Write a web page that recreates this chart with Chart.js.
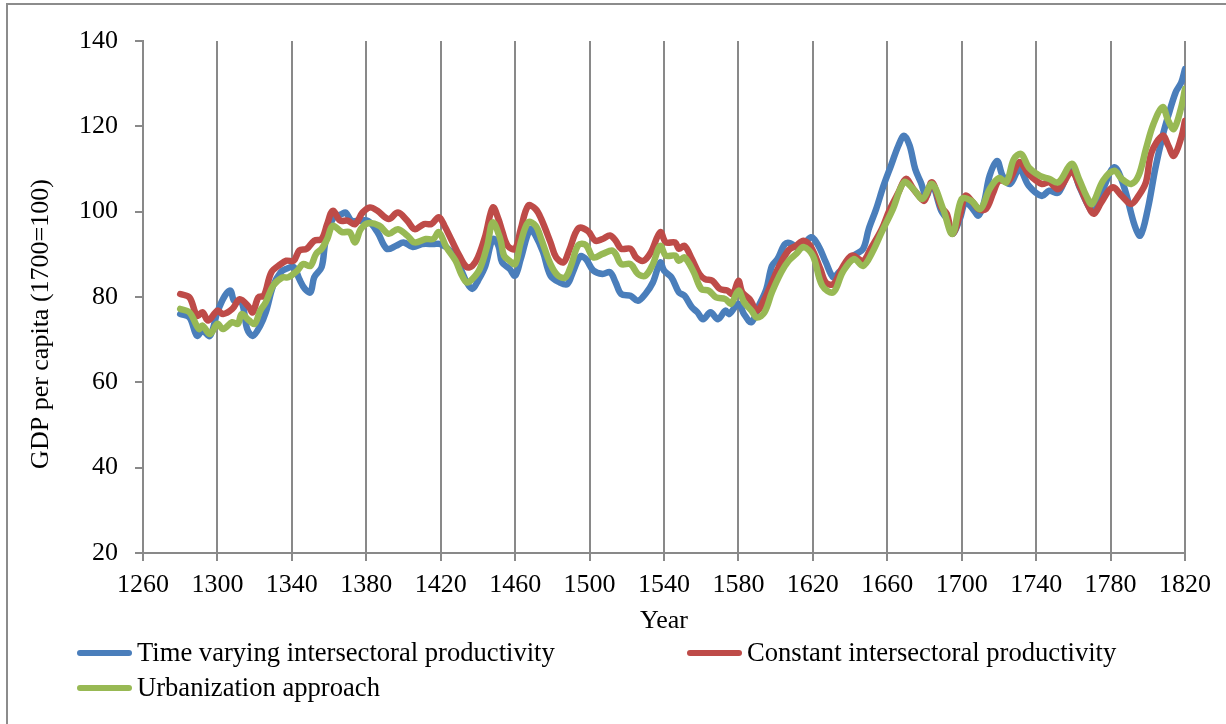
<!DOCTYPE html>
<html>
<head>
<meta charset="utf-8">
<script src="https://cdn.jsdelivr.net/npm/chart.js@4.4.1/dist/chart.umd.min.js"></script>
<style>
    html, body { margin: 0; padding: 0; background: #fff; }
    #wrap { position: relative; width: 1226px; height: 724px; overflow: hidden; }
    #frame { position: absolute; left: 6px; top: 3px; right: -5px; bottom: -5px; border-left: 2px solid #8c8c8c; border-top: 2px solid #8c8c8c; }
    .legend-item { position: absolute; display: flex; align-items: center; font-family: "Liberation Serif", "Times New Roman", serif; font-size: 26.6px; color: #000; white-space: nowrap; }
    .swatch { width: 55px; height: 6px; border-radius: 3px; margin-right: 5px; }
</style>
</head>
<body>
<div id="wrap">
    <div id="frame"></div>
    <canvas id="gdpChart" width="1226" height="724"></canvas>
    <div id="legend"></div>
</div>
<script>
// Time varying intersectoral productivity
const timeVaryingYears = [1280, 1285, 1289, 1292, 1296, 1300, 1304, 1307, 1309, 1313, 1316, 1319, 1323, 1326, 1330, 1334, 1337, 1341, 1344, 1347, 1350, 1352, 1356, 1358, 1362, 1367, 1369, 1372, 1376, 1381, 1386, 1391, 1396, 1400, 1405, 1410, 1416, 1420, 1425, 1430, 1434, 1437, 1440, 1444, 1448, 1451, 1453, 1457, 1460, 1463, 1468, 1471, 1475, 1479, 1484, 1488, 1491, 1495, 1498, 1502, 1507, 1511, 1514, 1517, 1522, 1526, 1530, 1534, 1538, 1540, 1544, 1548, 1551, 1555, 1558, 1561, 1565, 1569, 1573, 1575, 1580, 1583, 1587, 1591, 1595, 1598, 1601, 1605, 1608, 1613, 1619, 1623, 1627, 1631, 1634, 1638, 1642, 1647, 1650, 1654, 1658, 1662, 1666, 1669, 1672, 1675, 1678, 1681, 1684, 1689, 1692, 1695, 1699, 1702, 1706, 1709, 1712, 1715, 1719, 1722, 1726, 1731, 1736, 1743, 1747, 1752, 1759, 1763, 1768, 1771, 1776, 1782, 1787, 1793, 1796, 1800, 1804, 1808, 1811, 1815, 1818, 1820];
const timeVaryingValues = [76.0, 75.2, 70.9, 72.1, 70.9, 76.5, 80.3, 81.5, 79.1, 78.8, 72.5, 70.9, 73.3, 76.4, 82.7, 85.8, 86.6, 87.0, 84.2, 81.9, 81.1, 84.6, 87.0, 92.8, 98.3, 99.5, 99.8, 97.9, 97.9, 97.8, 95.2, 91.3, 92.0, 92.8, 91.7, 92.4, 92.4, 92.4, 90.9, 87.3, 83.4, 81.9, 83.8, 87.3, 93.6, 92.0, 88.1, 86.6, 85.0, 88.9, 95.9, 94.4, 90.5, 85.0, 83.4, 83.0, 85.8, 89.5, 88.9, 86.2, 85.4, 85.8, 83.4, 80.7, 80.3, 79.1, 80.7, 83.4, 88.1, 86.2, 84.6, 81.1, 80.3, 77.6, 76.4, 74.8, 76.4, 74.8, 76.8, 76.0, 78.4, 76.0, 74.1, 78.0, 81.9, 87.3, 88.9, 92.4, 92.6, 91.3, 94.0, 92.0, 88.1, 84.6, 85.8, 87.3, 89.7, 91.3, 95.9, 100.6, 106.1, 110.8, 115.5, 117.8, 115.5, 110.0, 106.9, 103.7, 106.5, 100.2, 98.3, 94.8, 98.3, 102.2, 100.6, 99.1, 102.2, 108.4, 111.9, 108.4, 106.5, 110.0, 106.1, 103.7, 104.9, 104.5, 110.4, 106.1, 101.4, 99.8, 105.3, 110.4, 106.1, 96.7, 94.4, 100.6, 110.0, 117.8, 122.5, 128.0, 130.3, 133.4];

// Constant intersectoral productivity
const constantYears = [1280, 1285, 1289, 1292, 1295, 1300, 1303, 1308, 1312, 1317, 1319, 1322, 1325, 1329, 1334, 1337, 1341, 1344, 1348, 1352, 1356, 1359, 1362, 1366, 1370, 1374, 1378, 1382, 1386, 1392, 1397, 1402, 1406, 1411, 1415, 1419, 1422, 1426, 1430, 1434, 1437, 1440, 1444, 1448, 1451, 1453, 1456, 1460, 1463, 1467, 1471, 1474, 1479, 1482, 1486, 1489, 1494, 1499, 1503, 1507, 1511, 1514, 1517, 1522, 1525, 1529, 1533, 1538, 1541, 1546, 1548, 1551, 1555, 1559, 1562, 1566, 1570, 1574, 1577, 1580, 1582, 1586, 1590, 1594, 1598, 1602, 1607, 1611, 1615, 1619, 1624, 1627, 1631, 1636, 1641, 1647, 1651, 1657, 1661, 1666, 1670, 1674, 1677, 1680, 1684, 1689, 1692, 1695, 1699, 1702, 1706, 1709, 1713, 1717, 1720, 1725, 1731, 1736, 1743, 1747, 1752, 1759, 1764, 1768, 1771, 1775, 1781, 1786, 1791, 1795, 1799, 1802, 1808, 1811, 1814, 1818, 1820];
const constantValues = [80.7, 79.9, 75.6, 76.4, 74.5, 76.8, 76.0, 77.2, 79.5, 77.6, 76.4, 79.9, 80.3, 85.8, 87.7, 88.5, 88.5, 90.9, 91.3, 93.2, 93.6, 97.1, 100.2, 97.9, 97.9, 97.1, 99.8, 101.0, 100.2, 98.3, 99.8, 97.9, 95.9, 97.1, 97.1, 98.7, 96.7, 93.2, 89.7, 87.0, 87.3, 89.3, 94.4, 101.0, 98.3, 95.5, 92.0, 91.3, 95.9, 101.4, 100.6, 98.3, 92.8, 89.3, 88.1, 90.9, 96.1, 95.5, 93.2, 93.6, 94.4, 93.2, 91.3, 91.3, 89.3, 88.5, 90.5, 95.2, 92.8, 92.8, 91.3, 92.0, 88.9, 85.4, 84.2, 83.8, 81.9, 81.5, 80.7, 83.8, 81.1, 79.5, 76.8, 79.5, 83.4, 87.3, 91.0, 92.0, 93.2, 91.7, 86.6, 83.4, 83.0, 87.0, 89.7, 88.5, 91.3, 95.9, 100.2, 104.5, 107.7, 105.3, 103.7, 102.6, 106.9, 101.0, 99.5, 94.8, 99.1, 103.7, 102.2, 100.6, 100.6, 104.5, 107.3, 107.1, 111.6, 108.8, 106.5, 106.9, 105.3, 109.2, 105.3, 101.4, 99.5, 102.2, 105.7, 103.7, 101.8, 103.7, 106.9, 113.9, 117.8, 115.5, 113.1, 117.4, 121.3];

// Urbanization approach
const urbanYears = [1280, 1285, 1290, 1292, 1296, 1300, 1303, 1308, 1311, 1313, 1317, 1320, 1323, 1326, 1330, 1335, 1338, 1343, 1346, 1350, 1353, 1356, 1359, 1362, 1367, 1371, 1374, 1377, 1381, 1387, 1392, 1397, 1402, 1406, 1412, 1416, 1419, 1423, 1428, 1431, 1434, 1437, 1441, 1445, 1448, 1452, 1454, 1457, 1460, 1463, 1467, 1471, 1474, 1479, 1483, 1487, 1490, 1494, 1498, 1502, 1507, 1512, 1514, 1517, 1522, 1526, 1530, 1534, 1538, 1541, 1546, 1548, 1551, 1556, 1560, 1564, 1568, 1573, 1576, 1580, 1583, 1587, 1590, 1594, 1598, 1603, 1607, 1611, 1615, 1620, 1625, 1631, 1636, 1642, 1647, 1652, 1657, 1663, 1669, 1674, 1679, 1684, 1690, 1695, 1700, 1705, 1710, 1715, 1720, 1724, 1728, 1732, 1736, 1742, 1747, 1752, 1759, 1763, 1767, 1770, 1776, 1782, 1786, 1791, 1795, 1799, 1803, 1808, 1811, 1814, 1818, 1820];
const urbanValues = [77.2, 76.4, 72.5, 73.3, 71.3, 73.7, 72.5, 74.1, 73.7, 76.0, 74.5, 73.7, 76.8, 78.8, 82.7, 84.6, 84.6, 86.2, 87.7, 87.3, 90.1, 91.3, 93.6, 96.7, 95.2, 95.2, 92.8, 95.9, 97.3, 96.7, 94.8, 95.9, 94.4, 92.8, 93.6, 93.6, 95.2, 91.7, 88.5, 85.4, 83.4, 84.2, 86.6, 92.0, 97.5, 93.6, 89.7, 88.5, 87.7, 92.8, 97.5, 96.7, 93.6, 87.7, 85.0, 84.6, 87.3, 92.2, 92.2, 89.3, 90.1, 90.9, 90.1, 87.7, 87.7, 85.4, 85.0, 87.7, 92.0, 89.7, 89.7, 88.5, 89.3, 85.8, 81.9, 81.5, 79.9, 79.5, 78.4, 81.5, 78.8, 76.8, 75.2, 76.4, 81.1, 85.8, 88.5, 90.1, 91.7, 89.7, 82.7, 81.1, 85.8, 88.9, 87.3, 90.5, 95.2, 100.6, 106.9, 105.3, 103.0, 106.5, 100.6, 94.8, 103.0, 102.6, 100.6, 105.3, 107.9, 106.9, 112.3, 113.5, 110.4, 108.4, 107.7, 106.9, 111.2, 107.7, 103.7, 101.8, 107.3, 109.6, 107.7, 106.5, 108.4, 114.7, 120.5, 124.5, 121.3, 119.4, 124.5, 128.8];

const seriesLabels = ['Time varying intersectoral productivity', 'Constant intersectoral productivity', 'Urbanization approach'];
const seriesColors = ['#4a7ebb', '#be4b48', '#98b954'];

const xTicks = { min: 1260, max: 1820, step: 40 };
const yTicks = { min: 20, max: 140, step: 20 };
const yTitleText = 'GDP per capita (1700=100)';

const toPoints = (years, values) => years.map((yr, i) => ({ x: yr, y: values[i] }));

const seriesData = [
    toPoints(timeVaryingYears, timeVaryingValues),
    toPoints(constantYears, constantValues),
    toPoints(urbanYears, urbanValues)
];

const fontFamily = '"Liberation Serif", "Times New Roman", serif';
const axisFont = { family: fontFamily, size: 26 };
const gridGray = '#898989';

const datasets = seriesData.map((pts, i) => ({
    label: seriesLabels[i],
    data: pts,
    borderColor: seriesColors[i],
    backgroundColor: seriesColors[i],
    borderWidth: 6.5,
    pointRadius: 0,
    tension: 0.35,
    borderCapStyle: 'round',
    borderJoinStyle: 'round',
    fill: false,
    order: 3 - i
}));

// the y title sits a little below the middle of the axis in the original
const yTitlePlugin = {
    id: 'yTitle',
    afterDraw(chart) {
        const c = chart.ctx;
        const area = chart.chartArea;
        c.save();
        c.translate(41, (area.top + area.bottom) / 2 + 27);
        c.rotate(-Math.PI / 2);
        c.font = '26px ' + fontFamily;
        c.fillStyle = '#000';
        c.textAlign = 'center';
        c.textBaseline = 'middle';
        c.fillText(yTitleText, 0, 0);
        c.restore();
    }
};

const ctx = document.getElementById('gdpChart').getContext('2d');
new Chart(ctx, {
    type: 'line',
    data: { datasets: datasets },
    plugins: [yTitlePlugin],
    options: {
        responsive: false,
        animation: false,
        layout: { padding: { left: 0, top: 41, right: 41, bottom: 0 } },
        plugins: {
            legend: { display: false },
            tooltip: { enabled: false }
        },
        scales: {
            x: {
                type: 'linear',
                min: xTicks.min,
                max: xTicks.max,
                afterFit: (scale) => { scale.height = 171; },
                ticks: {
                    stepSize: xTicks.step,
                    color: '#000',
                    font: axisFont,
                    padding: 9,
                    maxRotation: 0,
                    callback: (v) => String(v)
                },
                grid: {
                    color: gridGray,
                    lineWidth: 2,
                    tickLength: 8,
                    drawTicks: true
                },
                border: { color: gridGray, width: 2 },
                title: {
                    display: true,
                    text: 'Year',
                    color: '#000',
                    font: axisFont,
                    padding: { top: 0, bottom: 87 }
                }
            },
            y: {
                min: yTicks.min,
                max: yTicks.max,
                afterFit: (scale) => { scale.width = 143; },
                ticks: {
                    stepSize: yTicks.step,
                    color: '#000',
                    font: axisFont,
                    padding: 17
                },
                grid: {
                    drawOnChartArea: false,
                    color: gridGray,
                    lineWidth: 2,
                    tickLength: 8
                },
                border: { color: gridGray, width: 2 }
            }
        }
    }
});

// legend laid out like the original (two columns, two rows)
const legendSpots = [
    { left: 77, top: 637 },
    { left: 687, top: 637 },
    { left: 77, top: 672 }
];
const legend = document.getElementById('legend');
seriesLabels.forEach((label, i) => {
    const item = document.createElement('div');
    item.className = 'legend-item';
    item.style.left = legendSpots[i].left + 'px';
    item.style.top = legendSpots[i].top + 'px';
    item.innerHTML = '<span class="swatch" style="background:' + seriesColors[i] + '"></span><span>' + label + '</span>';
    legend.appendChild(item);
});
</script>
</body>
</html>
